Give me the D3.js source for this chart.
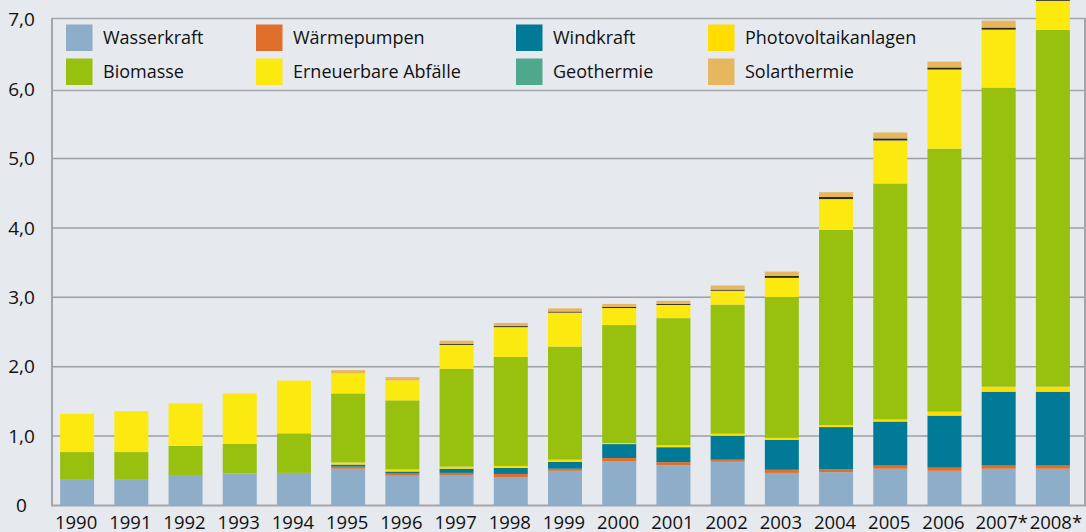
<!DOCTYPE html>
<html>
<head>
<meta charset="utf-8">
<script src="https://cdn.jsdelivr.net/npm/d3@7/dist/d3.min.js"></script>
<style>
  html, body { margin: 0; padding: 0; background: #e6e9ee; }
  svg { display: block; font-family: 'Open Sans', sans-serif; }
</style>
</head>
<body>
<svg id="chart" width="1086" height="532"></svg>
<script>
// years on the x axis
const years = ['1990', '1991', '1992', '1993', '1994', '1995', '1996', '1997', '1998', '1999',
  '2000', '2001', '2002', '2003', '2004', '2005', '2006', '2007*', '2008*'];

// segment values per series, bottom to top
const wasserkraft = [0.37, 0.37, 0.44, 0.46, 0.47, 0.53, 0.43, 0.44, 0.41, 0.50,
  0.64, 0.58, 0.63, 0.47, 0.48, 0.53, 0.50, 0.53, 0.53];
const waermepumpen = [0, 0, 0, 0, 0, 0.03, 0.03, 0.03, 0.045, 0.03,
  0.045, 0.045, 0.03, 0.045, 0.045, 0.045, 0.045, 0.045, 0.045];
const windkraft = [0, 0, 0, 0, 0, 0.03, 0.03, 0.06, 0.085, 0.10,
  0.20, 0.215, 0.345, 0.43, 0.605, 0.635, 0.75, 1.065, 1.065];
const photovoltaik = [0, 0, 0, 0, 0, 0.03, 0.03, 0.03, 0.03, 0.03,
  0.015, 0.03, 0.03, 0.03, 0.03, 0.03, 0.057, 0.072, 0.072];
const biomasse = [0.40, 0.40, 0.42, 0.43, 0.57, 0.995, 0.995, 1.41, 1.57, 1.63,
  1.70, 1.83, 1.86, 2.03, 2.81, 3.40, 3.79, 4.31, 5.14];
const abfaelle = [0.55, 0.59, 0.61, 0.725, 0.76, 0.29, 0.29, 0.345, 0.43, 0.49,
  0.245, 0.19, 0.20, 0.275, 0.445, 0.62, 1.14, 0.835, 0.42];
const geothermie = [0, 0, 0, 0, 0, 0, 0, 0.015, 0.015, 0.015,
  0.015, 0.015, 0.015, 0.03, 0.03, 0.03, 0.03, 0.03, 0.03];
const solarthermie = [0, 0, 0, 0, 0, 0.045, 0.045, 0.045, 0.045, 0.045,
  0.045, 0.045, 0.06, 0.06, 0.07, 0.085, 0.085, 0.10, 0.11];

const yTicks = [0, 1, 2, 3, 4, 5, 6, 7];

// legend order (row by row)
const legendNames = ['Wasserkraft', 'Wärmepumpen', 'Windkraft', 'Photovoltaikanlagen',
  'Biomasse', 'Erneuerbare Abfälle', 'Geothermie', 'Solarthermie'];

// stacking order, bottom first
const stackKeys = ['Wasserkraft', 'Wärmepumpen', 'Windkraft', 'Photovoltaikanlagen',
  'Biomasse', 'Erneuerbare Abfälle', 'Geothermie', 'Solarthermie'];
const seriesValues = {
  'Wasserkraft': wasserkraft,
  'Wärmepumpen': waermepumpen,
  'Windkraft': windkraft,
  'Photovoltaikanlagen': photovoltaik,
  'Biomasse': biomasse,
  'Erneuerbare Abfälle': abfaelle,
  'Geothermie': geothermie,
  'Solarthermie': solarthermie
};

const swatchColor = {
  'Wasserkraft': '#8eadc9',
  'Wärmepumpen': '#df6f2a',
  'Windkraft': '#007a96',
  'Photovoltaikanlagen': '#ffdd00',
  'Biomasse': '#97c00f',
  'Erneuerbare Abfälle': '#fce90f',
  'Geothermie': '#4ea88b',
  'Solarthermie': '#e6b75f'
};
// in the bars the geothermal sliver prints nearly black
const barColor = Object.assign({}, swatchColor, { 'Geothermie': '#2a2a1e' });

// table for d3.stack
const table = years.map(function(y, i) {
  let row = { year: y };
  stackKeys.forEach(function(k) { row[k] = seriesValues[k][i]; });
  return row;
});

const svg = d3.select('#chart');
const frame = { left: 52, right: 1085, top: 18.5, bottom: 505.5 };

const x = d3.scaleBand()
  .domain(years)
  .range([50, 1080])
  .paddingInner(0.373)
  .paddingOuter(0.1865);

const y = d3.scaleLinear()
  .domain([0, 7])
  .range([505.5, 19.7]);

// gridlines
svg.append('g')
  .selectAll('line')
  .data(yTicks.filter(function(d) { return d > 0; }))
  .enter()
  .append('line')
  .attr('x1', frame.left)
  .attr('x2', frame.right)
  .attr('y1', function(d) { return y(d); })
  .attr('y2', function(d) { return y(d); })
  .style('stroke', '#9b9ea3')
  .style('stroke-width', '1.5px');

// legend box sits on the gridlines, bars are drawn over it
svg.append('rect')
  .attr('x', frame.left)
  .attr('y', frame.top)
  .attr('width', frame.right - frame.left)
  .attr('height', 72)
  .style('fill', '#e6e9ee')
  .style('stroke', '#a3a6ab')
  .style('stroke-width', '1.5px');

const legendCols = [66, 256, 516, 708];
const legendRows = [24.5, 58.5];

const legend = svg.append('g')
  .selectAll('g')
  .data(legendNames)
  .enter()
  .append('g')
  .attr('transform', function(d, i) {
    return 'translate(' + legendCols[i % 4] + ',' + legendRows[Math.floor(i / 4)] + ')';
  });

legend.append('rect')
  .attr('width', 26.5)
  .attr('height', 26.5)
  .style('fill', function(d) { return swatchColor[d]; });

legend.append('text')
  .attr('x', 37)
  .attr('y', 13.5)
  .attr('dy', '0.35em')
  .style('font-size', '18px')
  .style('fill', '#111')
  .text(function(d) { return d; });

// frame: left, bottom and right edges
svg.append('path')
  .attr('d', 'M' + frame.left + ',' + frame.top + 'V' + frame.bottom + 'H' + frame.right + 'V' + frame.top)
  .style('fill', 'none')
  .style('stroke', '#a3a6ab')
  .style('stroke-width', '2px');

// stacked bars
const stacked = d3.stack().keys(stackKeys)(table);

svg.append('g')
  .selectAll('g')
  .data(stacked)
  .enter()
  .append('g')
  .style('fill', function(d) { return barColor[d.key]; })
  .selectAll('rect')
  .data(function(d) { return d.filter(function(p) { return p[1] > p[0]; }); })
  .enter()
  .append('rect')
  .attr('x', function(d) { return x(d.data.year); })
  .attr('width', x.bandwidth())
  .attr('y', function(d) { return y(d[1]); })
  .attr('height', function(d) { return y(d[0]) - y(d[1]); });

// y labels
svg.append('g')
  .selectAll('text')
  .data(yTicks)
  .enter()
  .append('text')
  .attr('x', 21.5)
  .attr('y', function(d) { return y(d); })
  .attr('dy', '0.35em')
  .attr('text-anchor', 'middle')
  .style('font-size', '19px')
  .style('fill', '#111')
  .text(function(d) { return d === 0 ? '0' : d3.format('.1f')(d).replace('.', ','); });

// x labels
svg.append('g')
  .selectAll('text')
  .data(years)
  .enter()
  .append('text')
  .attr('x', function(d) { return x(d) + x.bandwidth() / 2 + (d.indexOf('*') > 0 ? 3 : -1); })
  .attr('y', 528.5)
  .attr('text-anchor', 'middle')
  .style('font-size', '18.5px')
  .style('fill', '#111')
  .text(function(d) { return d; });
</script>
</body>
</html>
